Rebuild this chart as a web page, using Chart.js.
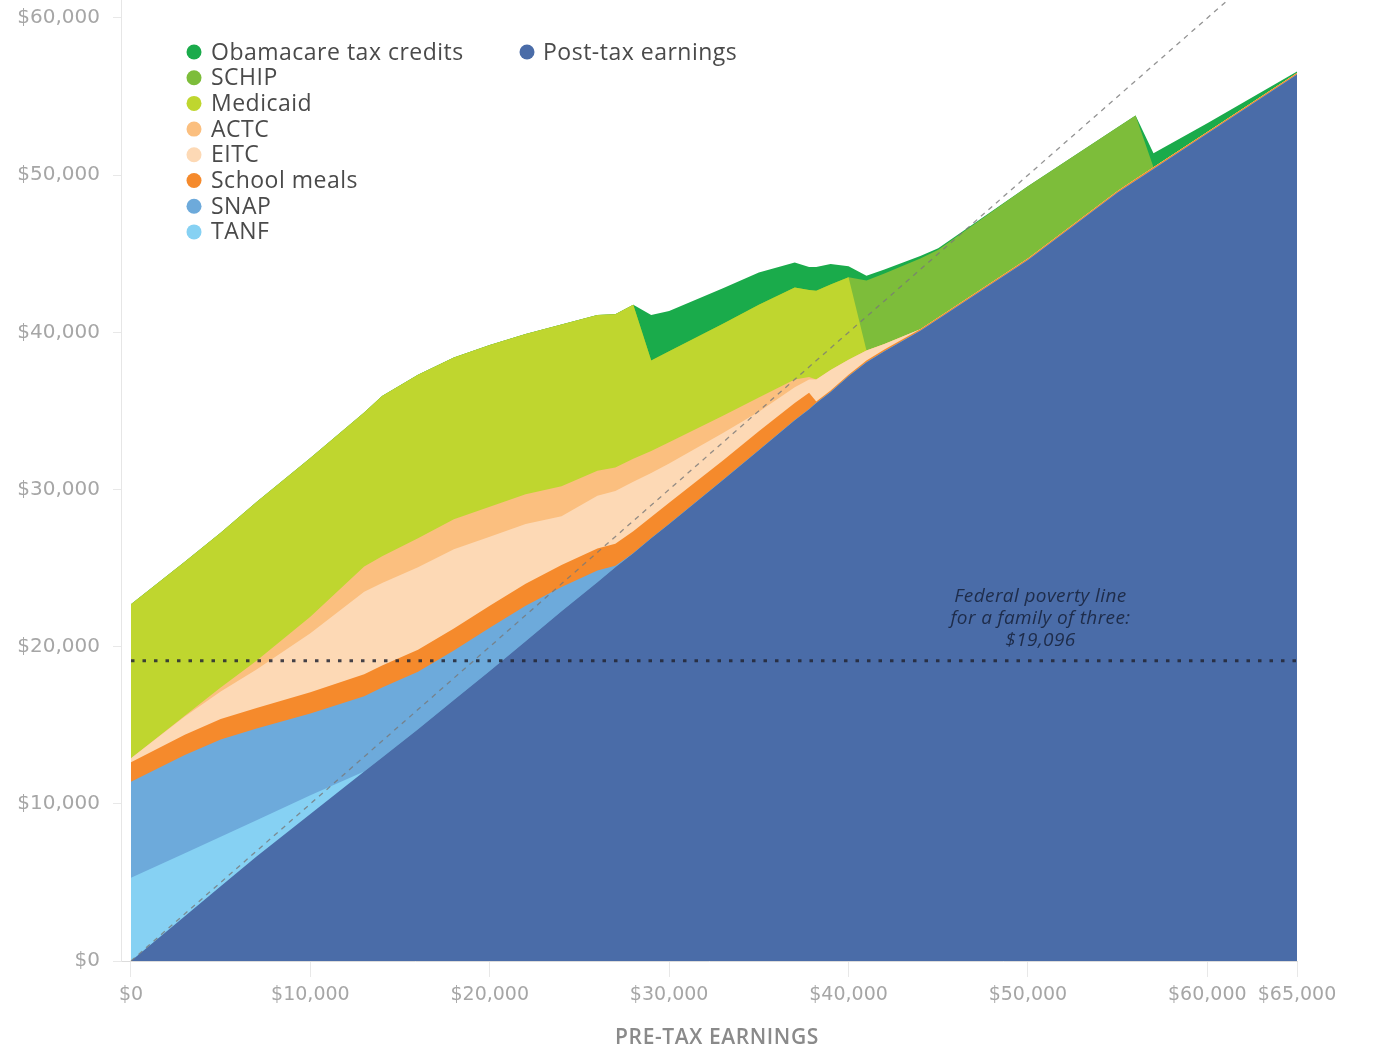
<!DOCTYPE html>
<html>
<head>
<meta charset="utf-8">
<title>Post-tax earnings and benefits</title>
<script src="https://cdn.jsdelivr.net/npm/chart.js@4.4.1/dist/chart.umd.min.js"></script>
<style>
  html, body { margin: 0; padding: 0; background: #fff; }
  #wrap { width: 1373px; height: 1051px; position: relative; }
</style>
</head>
<body>
<div id="wrap"><canvas id="chart"></canvas></div>
<script>
// pre-tax earnings (x) and the stacked layers
const earnings = [0, 3000, 5000, 7000, 10000, 13000, 14000, 16000, 18000, 20000, 22000, 24000,
  26000, 27000, 28000, 29000, 30000, 33000, 35000, 37000, 37800, 38200, 39000, 40000, 41000,
  42000, 44000, 45000, 50000, 55000, 56000, 57000, 60000, 65000];

const postTax = [0, 2850, 4750, 6650, 9350, 12050, 12950, 14750, 16600, 18450, 20350, 22250,
  24100, 25050, 25950, 26900, 27800, 30600, 32500, 34400, 35100, 35500, 36200, 37200, 38100,
  38800, 40100, 40850, 44600, 48900, 49650, 50400, 52650, 56400];
const tanf = [5300, 4000, 3150, 2300, 1200, 0, 0, 0, 0, 0, 0, 0,
  0, 0, 0, 0, 0, 0, 0, 0, 0, 0, 0, 0, 0,
  0, 0, 0, 0, 0, 0, 0, 0, 0];
const snap = [6100, 6250, 6200, 5850, 5200, 4800, 4450, 3650, 3150, 2750, 2250, 1550,
  750, 100, 0, 0, 0, 0, 0, 0, 0, 0, 0, 0, 0,
  0, 0, 0, 0, 0, 0, 0, 0, 0];
const schoolMeals = [1250, 1300, 1300, 1300, 1350, 1400, 1400, 1400, 1400, 1400, 1400, 1400,
  1400, 1400, 1400, 1350, 1350, 1250, 1200, 1100, 1050, 100, 100, 100, 100,
  100, 100, 100, 100, 100, 100, 100, 100, 100];
const eitc = [250, 1150, 1750, 2450, 3750, 5250, 5250, 5250, 5050, 4400, 3800, 3100,
  3350, 3350, 3150, 2800, 2500, 1750, 1250, 1000, 850, 1400, 1300, 950, 650,
  350, 0, 0, 0, 0, 0, 0, 0, 0];
const actc = [0, 50, 250, 550, 1050, 1600, 1700, 1850, 1900, 1900, 1900, 1900,
  1600, 1500, 1450, 1400, 1350, 1100, 900, 500, 150, 0, 0, 0, 0,
  0, 0, 0, 0, 0, 0, 0, 0, 0];
const medicaid = [9800, 9800, 9850, 10100, 10100, 9800, 10200, 10400, 10300, 10300, 10200, 10300,
  9900, 9750, 9800, 5750, 5800, 5850, 5900, 5850, 5550, 5650, 5450, 5250, 0,
  0, 0, 0, 0, 0, 0, 0, 0, 0];
const schip = [0, 0, 0, 0, 0, 0, 0, 0, 0, 0, 0, 0,
  0, 0, 0, 0, 0, 0, 0, 0, 0, 0, 0, 0, 4450,
  4500, 4500, 4300, 4600, 4050, 4050, 0, 0, 0];
const obamacare = [0, 0, 0, 0, 0, 0, 0, 0, 0, 0, 0, 0,
  0, 0, 0, 2900, 2550, 2250, 2050, 1600, 1450, 1500, 1300, 700, 300,
  250, 150, 100, 0, 0, 0, 900, 550, 100];

const povertyLine = 19096;
const xTicks = [0, 10000, 20000, 30000, 40000, 50000, 60000, 65000];
const yTicks = [0, 10000, 20000, 30000, 40000, 50000, 60000];

const layers = [
  { label: 'Post-tax earnings', values: postTax, color: '#4a6ca8' },
  { label: 'TANF', values: tanf, color: '#86d1f3' },
  { label: 'SNAP', values: snap, color: '#6daadb' },
  { label: 'School meals', values: schoolMeals, color: '#f58a2c' },
  { label: 'EITC', values: eitc, color: '#fdd9b5' },
  { label: 'ACTC', values: actc, color: '#fbbf7f' },
  { label: 'Medicaid', values: medicaid, color: '#bfd62f' },
  { label: 'SCHIP', values: schip, color: '#7dbd3a' },
  { label: 'Obamacare tax credits', values: obamacare, color: '#1aab4b' }
];

const money = v => '$' + Number(v).toLocaleString('en-US');

const datasets = layers.map(l => ({
  label: l.label,
  data: earnings.map((x, i) => ({ x, y: l.values[i] })),
  backgroundColor: l.color,
  borderColor: l.color,
  borderWidth: 0,
  pointRadius: 0,
  fill: 'origin',
  stack: 'benefits'
}));

datasets.push({
  label: 'poverty',
  data: [{ x: 0, y: povertyLine }, { x: 65000, y: povertyLine }],
  borderColor: 'rgba(35,38,52,0.85)',
  borderWidth: 3,
  borderDash: [3.5, 8],
  borderCapStyle: 'butt',
  pointRadius: 0,
  fill: false,
  stack: 'poverty',
  order: -1
});
datasets.push({
  label: 'diagonal',
  data: [{ x: 0, y: 0 }, { x: 65000, y: 65000 }],
  borderColor: 'rgba(120,120,120,0.8)',
  borderWidth: 1.3,
  borderDash: [5, 5],
  pointRadius: 0,
  fill: false,
  stack: 'diagonal',
  order: -2
});

// legend, poverty note and axis title drawn by hand
const notesPlugin = {
  id: 'notes',
  afterDraw(chart) {
    const ctx = chart.ctx;
    ctx.save();
    ctx.font = '23px "Open Sans"';
    ctx.letterSpacing = '0.5px';
    ctx.textBaseline = 'middle';
    const leftCol = layers.slice(1).reverse();
    leftCol.forEach((l, i) => {
      const y = 52 + i * 25.7;
      ctx.fillStyle = l.color;
      ctx.beginPath();
      ctx.arc(194, y, 7.5, 0, Math.PI * 2);
      ctx.fill();
      ctx.fillStyle = '#4a4a4a';
      ctx.fillText(l.label, 211, y + 1);
    });
    ctx.fillStyle = layers[0].color;
    ctx.beginPath();
    ctx.arc(527, 52, 7.5, 0, Math.PI * 2);
    ctx.fill();
    ctx.fillStyle = '#4a4a4a';
    ctx.fillText(layers[0].label, 543, 53);

    // poverty line note
    const x = chart.scales.x.getPixelForValue(50700);
    const y = chart.scales.y.getPixelForValue(povertyLine);
    ctx.font = 'italic 19px "Open Sans"';
    ctx.letterSpacing = '0.4px';
    ctx.fillStyle = '#1e2c4a';
    ctx.textAlign = 'center';
    ctx.fillText('Federal poverty line', x, y - 64);
    ctx.fillText('for a family of three:', x, y - 42);
    ctx.fillText(money(povertyLine), x, y - 20);

    // x axis title
    ctx.font = '600 21px "Open Sans"';
    ctx.letterSpacing = '0.6px';
    ctx.fillStyle = '#8a8a8a';
    ctx.fillText('PRE-TAX EARNINGS', 717, 1038);
    ctx.restore();
  }
};

new Chart(document.getElementById('chart'), {
  type: 'line',
  data: { datasets },
  options: {
    responsive: true,
    maintainAspectRatio: false,
    animation: false,
    devicePixelRatio: 1,
    layout: { padding: { left: 0, right: 76, top: 0, bottom: 0 } },
    elements: { line: { tension: 0 } },
    scales: {
      x: {
        type: 'linear',
        min: -557,
        max: 65000,
        afterBuildTicks: s => { s.ticks = xTicks.map(v => ({ value: v })); },
        afterFit: s => { s.height = 90; s.paddingLeft = 0; s.paddingRight = 0; },
        ticks: {
          callback: v => money(v),
          color: '#a6a6a6',
          font: { family: 'DejaVu Sans', size: 19 },
          padding: 7,
          maxRotation: 0,
          autoSkip: false
        },
        grid: { drawOnChartArea: false, tickLength: 16, color: '#e8e8e8' },
        border: { color: '#dcdcdc' }
      },
      y: {
        stacked: true,
        min: 0,
        max: 61145,
        afterBuildTicks: s => { s.ticks = yTicks.map(v => ({ value: v })); },
        afterFit: s => { s.width = 121; s.paddingTop = 0; s.paddingBottom = 0; },
        ticks: {
          callback: v => money(v),
          color: '#a6a6a6',
          font: { family: 'DejaVu Sans', size: 20 },
          padding: 13
        },
        grid: { drawOnChartArea: false, tickLength: 8, color: '#e8e8e8' },
        border: { color: '#e6e6e6' }
      }
    },
    plugins: {
      legend: { display: false },
      tooltip: { enabled: false }
    }
  },
  plugins: [notesPlugin]
});
</script>
</body>
</html>
